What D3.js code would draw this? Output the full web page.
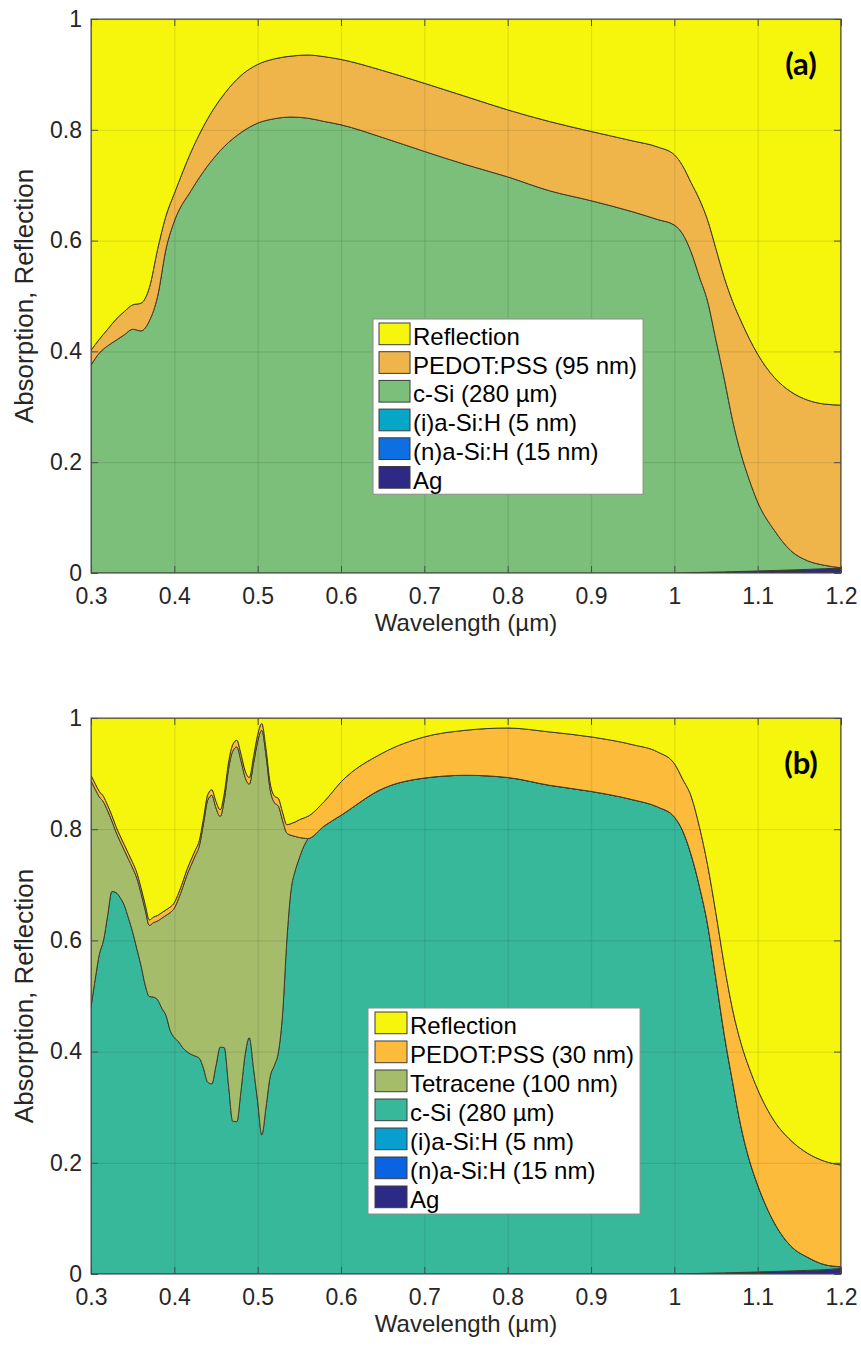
<!DOCTYPE html>
<html>
<head>
<meta charset="utf-8">
<script src="https://cdn.jsdelivr.net/npm/d3@7"></script>
<style>
  body { margin: 0; background: #fff; }
  text { font-family: "Liberation Sans", Arial, Helvetica, sans-serif; fill: #262626; }
</style>
</head>
<body>
<svg id="chart" width="861" height="1347"></svg>
<script>
// tick labels shared by both panels
const xTicks = [0.3, 0.4, 0.5, 0.6, 0.7, 0.8, 0.9, 1.0, 1.1, 1.2];
const yTicks = [0, 0.2, 0.4, 0.6, 0.8, 1];

// ---- panel (a): absorptance of each layer, reflection ----
const wlA = [0.30,0.31,0.32,0.33,0.34,0.35,0.36,0.37,0.38,0.39,0.40,
  0.42,0.44,0.46,0.48,0.50,0.52,0.54,0.56,0.58,0.60,
  0.65,0.70,0.75,0.80,0.85,0.90,0.95,0.98,1.00,
  1.01,1.02,1.03,1.04,1.05,1.06,1.07,1.08,1.09,1.10,
  1.12,1.14,1.16,1.18,1.20];
const agA = [0,0,0,0,0,0,0,0,0,0,0,
  0,0,0,0,0,0,0,0,0,0,
  0,0,0,0,0,0,0,0,0,
  .0003,.0006,.001,.0013,.0017,.002,.0024,.0028,.0032,.0036,
  .0045,.0055,.0065,.0077,.009];
const naSiA = [0,0,0,0,0,0,0,0,0,0,0, 0,0,0,0,0,0,0,0,0,0, 0,0,0,0,0,0,0,0,0,
  0,0,0,0,0,0,0,0,0,0, 0,0,0,0,0];
const iaSiA = [0,0,0,0,0,0,0,0,0,0,0, 0,0,0,0,0,0,0,0,0,0, 0,0,0,0,0,0,0,0,0,
  0,0,0,0,0,0,0,0,0,0, 0,0,0,0,0];
const cSiA = [.375,.397,.410,.420,.430,.440,.437,.455,.500,.585,.635,
  .690,.735,.770,.795,.812,.820,.823,.821,.815,.809,
  .786,.761,.737,.715,.690,.672,.652,.638,.628,
  .6117,.5794,.534,.4887,.4183,.348,.2726,.2122,.1648,.1244,
  .0725,.0345,.0155,.0063,.0005];
const pedotA = [.027,.025,.030,.038,.042,.044,.050,.060,.085,.060,.050,
  .070,.085,.095,.103,.106,.108,.110,.114,.117,.118,
  .121,.123,.123,.121,.125,.125,.128,.131,.127,
  .123,.125,.140,.147,.165,.183,.215,.240,.255,.267,
  .276,.287,.290,.291,.2935];
const reflA = [.598,.578,.560,.542,.528,.516,.513,.485,.415,.355,.315,
  .240,.180,.135,.102,.082,.072,.067,.065,.068,.073,
  .093,.116,.140,.164,.185,.203,.220,.231,.245,
  .265,.295,.325,.363,.415,.467,.510,.545,.577,.605,
  .647,.673,.688,.695,.697];

// ---- panel (b) ----
const wlB = [0.300,0.305,0.310,0.315,0.320,0.325,0.330,0.335,0.340,0.345,
  0.350,0.355,0.360,0.365,0.370,0.375,0.380,0.385,0.390,0.395,
  0.400,0.405,0.410,0.415,0.420,0.425,0.430,0.435,0.440,0.445,
  0.450,0.455,0.460,0.465,0.470,0.475,0.480,0.485,0.490,0.495,
  0.500,0.505,0.510,0.515,0.520,0.525,0.530,0.535,0.540,0.545,
  0.550,0.555,0.560,
  0.58,0.60,0.65,0.70,0.75,0.80,0.85,0.90,0.95,0.98,1.00,
  1.01,1.02,1.03,1.04,1.05,1.06,1.07,1.08,1.09,1.10,
  1.12,1.14,1.16,1.18,1.20];
const agB = [0,0,0,0,0,0,0,0,0,0, 0,0,0,0,0,0,0,0,0,0, 0,0,0,0,0,0,0,0,0,0,
  0,0,0,0,0,0,0,0,0,0, 0,0,0,0,0,0,0,0,0,0, 0,0,0,
  0,0,0,0,0,0,0,0,0,0,0,
  .0003,.0006,.001,.0013,.0017,.002,.0024,.0028,.0032,.0036,
  .0045,.0055,.0065,.0077,.010];
const naSiB = [0,0,0,0,0,0,0,0,0,0, 0,0,0,0,0,0,0,0,0,0, 0,0,0,0,0,0,0,0,0,0,
  0,0,0,0,0,0,0,0,0,0, 0,0,0,0,0,0,0,0,0,0, 0,0,0,
  0,0,0,0,0,0,0,0,0,0,0, 0,0,0,0,0,0,0,0,0,0, 0,0,0,0,0];
const iaSiB = [0,0,0,0,0,0,0,0,0,0, 0,0,0,0,0,0,0,0,0,0, 0,0,0,0,0,0,0,0,0,0,
  0,0,0,0,0,0,0,0,0,0, 0,0,0,0,0,0,0,0,0,0, 0,0,0,
  0,0,0,0,0,0,0,0,0,0,0, 0,0,0,0,0,0,0,0,0,0, 0,0,0,0,0];
const cSiB = [.480,.530,.575,.600,.645,.688,.686,.677,.663,.640,
  .615,.585,.555,.520,.499,.498,.493,.478,.465,.438,
  .425,.418,.407,.400,.395,.392,.388,.370,.345,.342,
  .375,.408,.407,.340,.275,.274,.330,.395,.425,.370,
  .310,.250,.300,.355,.375,.400,.470,.600,.690,.725,
  .748,.768,.782,
  .806,.825,.873,.892,.897,.893,.879,.868,.853,.840,.822,
  .7967,.7544,.697,.6267,.5283,.428,.3426,.2622,.2018,.1564,
  .0875,.0445,.0235,.0093,.003];
const tetB = [.407,.342,.283,.249,.188,.127,.109,.101,.099,.106,
  .115,.127,.130,.135,.128,.134,.142,.162,.180,.212,
  .233,.257,.288,.317,.340,.360,.382,.440,.507,.519,
  .463,.415,.446,.568,.665,.674,.593,.498,.456,.548,
  .648,.728,.633,.516,.473,.441,.345,.193,.099,.062,
  .037,.016,.001,
  0,0,0,0,0,0,0,0,0,0,0, 0,0,0,0,0,0,0,0,0,0, 0,0,0,0,0];
const pedotB = [.010,.010,.010,.010,.010,.010,.010,.010,.010,.010,
  .010,.010,.010,.010,.010,.010,.010,.010,.010,.010,
  .010,.010,.010,.010,.010,.010,.010,.010,.010,.010,
  .012,.012,.012,.012,.012,.012,.012,.012,.012,.012,
  .012,.012,.012,.012,.012,.014,.015,.015,.021,.026,
  .032,.036,.040,
  .044,.060,.064,.074,.081,.089,.096,.098,.099,.099,.096,
  .093,.105,.107,.107,.118,.125,.130,.150,.165,.172,
  .183,.190,.187,.186,.183];
const reflB = [.103,.118,.132,.141,.157,.175,.195,.212,.228,.244,
  .260,.278,.305,.335,.363,.358,.355,.350,.345,.340,
  .332,.315,.295,.273,.255,.238,.220,.180,.138,.129,
  .150,.165,.135,.080,.048,.040,.065,.095,.107,.070,
  .030,.010,.055,.117,.140,.145,.170,.192,.190,.187,
  .183,.180,.177,
  .150,.115,.063,.034,.022,.018,.025,.034,.048,.061,.082,
  .110,.140,.195,.265,.352,.445,.525,.585,.630,.668,
  .725,.760,.783,.797,.804];

const svg = d3.select("#chart");

// layers listed bottom -> top (stack order); legend shows them reversed
const panels = [
  {
    id: "a", top: 19, bottom: 573, wl: wlA, tag: "(a)",
    legend: { x: 373, y: 319, row: 28.7, sw: 31, sx: 6, tx: 40 },
    layers: [
      { key: "ag", label: "Ag", color: "#2e2984", values: agA },
      { key: "nasi", label: "(n)a-Si:H (15 nm)", color: "#0d6fe0", values: naSiA },
      { key: "iasi", label: "(i)a-Si:H (5 nm)", color: "#05a6c6", values: iaSiA },
      { key: "csi", label: "c-Si (280 µm)", color: "#7bbf7b", values: cSiA },
      { key: "pedot", label: "PEDOT:PSS (95 nm)", color: "#efb54a", values: pedotA },
      { key: "refl", label: "Reflection", color: "#f6f60c", values: reflA }
    ]
  },
  {
    id: "b", top: 718, bottom: 1274, wl: wlB, tag: "(b)",
    legend: { x: 368, y: 1008, row: 29, sw: 32, sx: 7, tx: 42 },
    layers: [
      { key: "ag", label: "Ag", color: "#2d2a86", values: agB },
      { key: "nasi", label: "(n)a-Si:H (15 nm)", color: "#0a63e0", values: naSiB },
      { key: "iasi", label: "(i)a-Si:H (5 nm)", color: "#089fcf", values: iaSiB },
      { key: "csi", label: "c-Si (280 µm)", color: "#38b89b", values: cSiB },
      { key: "tet", label: "Tetracene (100 nm)", color: "#a5bd6b", values: tetB },
      { key: "pedot", label: "PEDOT:PSS (30 nm)", color: "#fdbb3c", values: pedotB },
      { key: "refl", label: "Reflection", color: "#f6f60c", values: reflB }
    ]
  }
];

const left = 91, right = 841;

panels.forEach((p) => {
  const x = d3.scaleLinear().domain([0.3, 1.2]).range([left, right]);
  const y = d3.scaleLinear().domain([0, 1]).range([p.bottom, p.top]);
  const h = p.bottom - p.top;
  const g = svg.append("g");

  g.append("clipPath").attr("id", "clip-" + p.id)
    .append("rect").attr("x", left).attr("y", p.top)
    .attr("width", right - left).attr("height", h);

  const rows = p.wl.map((w, i) => {
    const r = { wl: w };
    p.layers.forEach((l) => { r[l.key] = l.values[i]; });
    return r;
  });
  const series = d3.stack().keys(p.layers.map((l) => l.key))(rows);

  const area = d3.area()
    .x((d) => x(d.data.wl))
    .y0((d) => y(d[0]))
    .y1((d) => y(d[1]))
    .curve(d3.curveMonotoneX);

  g.append("g").attr("clip-path", `url(#clip-${p.id})`)
    .selectAll("path")
    .data(series)
    .join("path")
    .attr("d", area)
    .attr("fill", (d, i) => p.layers[i].color)
    .attr("stroke", "#3c3a2c")
    .attr("stroke-width", 1)
    .attr("stroke-linejoin", "round");

  // grid on top of the areas
  g.append("g")
    .attr("transform", `translate(0,${p.bottom})`)
    .call(d3.axisBottom(x).tickValues(xTicks).tickSize(-h).tickFormat(""))
    .call((s) => s.select(".domain").remove())
    .selectAll("line").attr("stroke", "#000").attr("stroke-opacity", 0.09).attr("stroke-width", 1.3);
  g.append("g")
    .attr("transform", `translate(${left},0)`)
    .call(d3.axisLeft(y).tickValues(yTicks).tickSize(-(right - left)).tickFormat(""))
    .call((s) => s.select(".domain").remove())
    .selectAll("line").attr("stroke", "#000").attr("stroke-opacity", 0.09).attr("stroke-width", 1.3);

  // axes with inward ticks on all four sides
  const xAxis = g.append("g")
    .attr("transform", `translate(0,${p.bottom})`)
    .call(d3.axisBottom(x).tickValues(xTicks).tickSizeInner(-7).tickSizeOuter(0)
      .tickPadding(15).tickFormat(d3.format("~g")));
  const yAxis = g.append("g")
    .attr("transform", `translate(${left},0)`)
    .call(d3.axisLeft(y).tickValues(yTicks).tickSizeInner(-7).tickSizeOuter(0)
      .tickPadding(9).tickFormat(d3.format("~g")));
  const xTop = g.append("g")
    .attr("transform", `translate(0,${p.top})`)
    .call(d3.axisTop(x).tickValues(xTicks).tickSizeInner(-7).tickSizeOuter(0).tickFormat(""));
  const yRight = g.append("g")
    .attr("transform", `translate(${right},0)`)
    .call(d3.axisRight(y).tickValues(yTicks).tickSizeInner(-7).tickSizeOuter(0).tickFormat(""));

  [xAxis, yAxis, xTop, yRight].forEach((a) => {
    a.attr("font-family", null).attr("font-size", null);
    a.select(".domain").remove();
    a.selectAll("line").attr("stroke", "#4d4d4d");
    a.selectAll("text").attr("font-size", 23).style("fill", "#262626");
  });

  g.append("rect")
    .attr("x", left).attr("y", p.top)
    .attr("width", right - left).attr("height", h)
    .attr("fill", "none").attr("stroke", "#4d4d4d").attr("stroke-width", 1);

  // axis titles
  g.append("text")
    .attr("x", (left + right) / 2).attr("y", p.bottom + 58)
    .attr("text-anchor", "middle").attr("font-size", 24)
    .text("Wavelength (µm)");
  g.append("text")
    .attr("transform", `translate(33,${(p.top + p.bottom) / 2}) rotate(-90)`)
    .attr("text-anchor", "middle").attr("font-size", 26)
    .text("Absorption, Reflection");

  // panel tag
  g.append("text")
    .attr("x", 801).attr("y", p.top + 56)
    .attr("text-anchor", "middle").attr("font-size", 31)
    .attr("font-weight", "bold")
    .style("font-family", "Lato, 'Open Sans', sans-serif")
    .style("fill", "#000")
    .text(p.tag);

  // legend
  const L = p.legend;
  const items = p.layers.slice().reverse();
  const lg = g.append("g").attr("transform", `translate(${L.x},${L.y})`);
  const box = lg.append("rect")
    .attr("fill", "#fff").attr("stroke", "#8c8c8c").attr("stroke-width", 1);
  const rowsG = lg.selectAll("g.item").data(items).join("g")
    .attr("class", "item")
    .attr("transform", (d, i) => `translate(0,${i * L.row})`);
  rowsG.append("rect")
    .attr("x", L.sx).attr("y", 4).attr("width", L.sw).attr("height", 21.7)
    .attr("fill", (d) => d.color).attr("stroke", "#3c3c3c").attr("stroke-width", 1);
  rowsG.append("text")
    .attr("x", L.tx).attr("y", 26)
    .attr("font-size", 24)
    .style("fill", "#000")
    .text((d) => d.label);
  let maxW = 0;
  rowsG.selectAll("text").each(function () {
    maxW = Math.max(maxW, this.getComputedTextLength());
  });
  box.attr("x", 0).attr("y", 0)
    .attr("width", L.tx + maxW + 6)
    .attr("height", items.length * L.row + 3);
});
</script>
</body>
</html>
